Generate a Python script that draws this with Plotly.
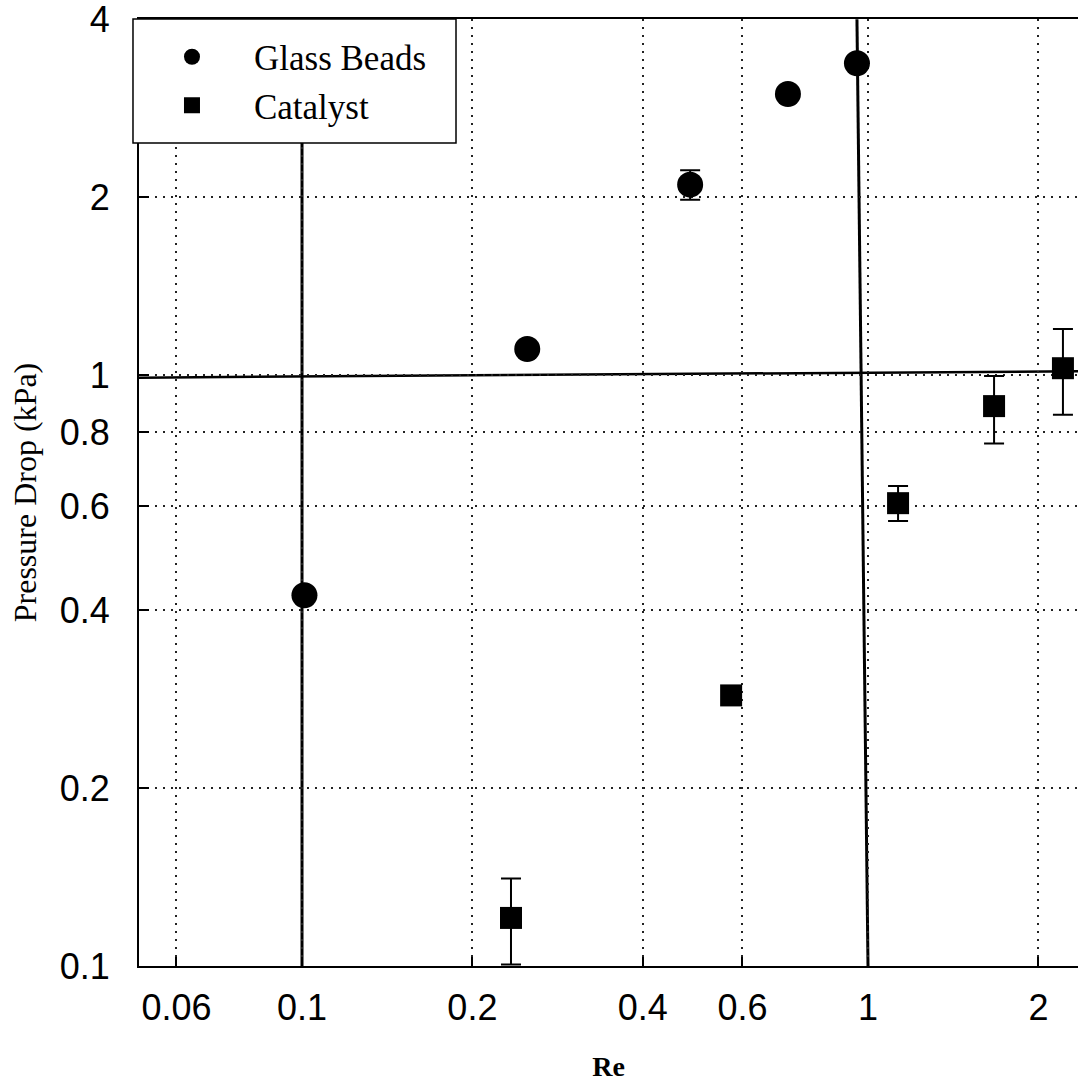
import plotly.graph_objects as go

# ---- data ----
beads_re = [0.101, 0.25, 0.485, 0.722, 0.956]
beads_dp = [0.424, 1.107, 2.10, 2.99, 3.37]
beads_err_plus = [0, 0, 0.12, 0, 0]
beads_err_minus = [0, 0, 0.12, 0, 0]

cat_re = [0.234, 0.573, 1.13, 1.67, 2.21]
cat_dp = [0.1206, 0.287, 0.607, 0.886, 1.027]
cat_err_plus = [0.020, 0, 0.042, 0.11, 0.17]
cat_err_minus = [0.020, 0, 0.041, 0.12, 0.17]

x_ticks = [0.06, 0.1, 0.2, 0.4, 0.6, 1, 2]
x_ticktext = ["0.06", "0.1", "0.2", "0.4", "0.6", "1", "2"]
y_ticks = [0.1, 0.2, 0.4, 0.6, 0.8, 1, 2, 4]
y_ticktext = ["0.1", "0.2", "0.4", "0.6", "0.8", "1", "2", "4"]

SERIF = "Liberation Serif, Times New Roman, serif"
SANS = "Liberation Sans, Arial, sans-serif"

fig = go.Figure()
fig.add_trace(go.Scatter(
    x=beads_re, y=beads_dp, mode="markers", name="Glass Beads",
    marker=dict(symbol="circle", size=26, color="black"),
    error_y=dict(type="data", symmetric=False, array=beads_err_plus,
                 arrayminus=beads_err_minus, color="black", thickness=2, width=10),
))
fig.add_trace(go.Scatter(
    x=cat_re, y=cat_dp, mode="markers", name="Catalyst",
    marker=dict(symbol="square", size=22, color="black"),
    error_y=dict(type="data", symmetric=False, array=cat_err_plus,
                 arrayminus=cat_err_minus, color="black", thickness=2, width=10),
))

# solid reference lines seen in the original figure
fig.add_shape(type="line", x0=0.1, x1=0.1, y0=0.1, y1=4, xref="x", yref="y",
              line=dict(color="black", width=3), layer="below")
fig.add_shape(type="line", x0=0.956, x1=1.0, y0=4, y1=0.1, xref="x", yref="y",
              line=dict(color="black", width=3), layer="below")
fig.add_shape(type="line", x0=0.0515, x1=2.35, y0=0.99, y1=1.015, xref="x", yref="y",
              line=dict(color="black", width=2.5), layer="below")
# legend frame
fig.add_shape(type="rect", xref="paper", yref="paper",
              x0=-0.0064, x1=0.3376, y0=0.869, y1=1.0,
              fillcolor="white", line=dict(color="black", width=1.5), layer="above")

GRID_DASH = "2px,6px"
fig.update_xaxes(
    type="log", range=[-1.288, 0.371],
    tickvals=x_ticks, ticktext=x_ticktext,
    ticks="inside", ticklen=9, tickwidth=2, tickcolor="black",
    ticklabelstandoff=9, ticklabeloverflow="allow",
    showline=True, linecolor="black", linewidth=2, mirror=True,
    showgrid=True, gridcolor="#222", griddash=GRID_DASH, gridwidth=2,
    zeroline=False,
    tickfont=dict(family=SANS, size=36, color="black"),
    title=dict(text="<b>Re</b>", font=dict(family=SERIF, size=28, color="black"), standoff=32),
)
fig.update_yaxes(
    type="log", range=[-1.0, 0.6025],
    tickvals=y_ticks, ticktext=y_ticktext,
    ticks="inside", ticklen=10, tickwidth=2, tickcolor="black",
    ticklabelstandoff=20, ticklabeloverflow="allow",
    showline=True, linecolor="black", linewidth=2,
    showgrid=True, gridcolor="#222", griddash=GRID_DASH, gridwidth=2,
    zeroline=False,
    tickfont=dict(family=SANS, size=36, color="black"),
    title=dict(text="Pressure Drop (kPa)", font=dict(family=SERIF, size=32, color="black"), standoff=14),
)

fig.update_layout(
    width=1078, height=1082,
    margin=dict(l=139, r=0, t=19, b=116),
    paper_bgcolor="white", plot_bgcolor="white",
    showlegend=True,
    legend=dict(
        x=-0.0096, y=0.991, xanchor="left", yanchor="top",
        bgcolor="rgba(0,0,0,0)", borderwidth=0,
        font=dict(family=SERIF, size=35, color="black"),
        itemwidth=114, tracegroupgap=0,
    ),
)

fig.write_html("out.html")
